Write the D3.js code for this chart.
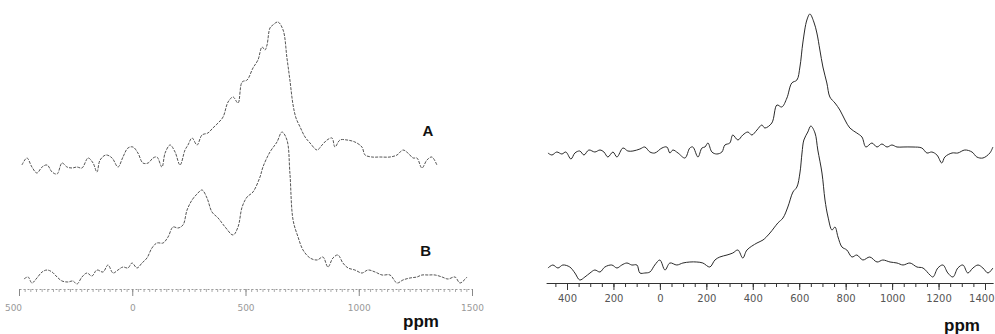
<!DOCTYPE html>
<html>
<head>
<meta charset="utf-8">
<script src="https://cdn.jsdelivr.net/npm/d3@7"></script>
<style>
  body { margin: 0; background: #fff; }
  svg { display: block; }
</style>
</head>
<body>
<div id="chart"></div>
<script>
// Two stacked NMR spectra panels, ppm on x, intensity in arbitrary units

// left panel, spectrum A  [ppm, intensity]
let leftA = [[-487,0],[-465,7],[-443,-2],[-421,-8],[-398,-2],[-376,0],[-354,-7],[-332,-9],[-310,2],[-288,-2],
  [-266,-3],[-244,-2],[-222,-3],[-195,7],[-173,2],[-156,-7],[-142,5],[-116,10],[-89,7],[-63,-2],
  [-41,8],[-19,17],[3,18],[25,12],[47,2],[70,2],[92,7],[109,8],[131,-2],[145,12],
  [167,20],[189,13],[211,0],[233,15],[246,20],[264,27],[286,20],[308,30],[334,32],[356,37],
  [379,42],[401,48],[423,63],[445,68],[467,62],[485,83],[507,85],[533,97],[555,105],[573,118],
  [586,115],[595,120],[608,137],[621,140],[643,143],[666,135],[683,107],[696,85],[710,60],[723,47],
  [741,38],[763,28],[785,22],[816,15],[838,20],[860,25],[882,27],[895,18],[917,25],[948,25],
  [983,23],[1014,18],[1028,10],[1058,8],[1094,8],[1138,8],[1169,10],[1195,15],[1217,12],[1240,7],
  [1257,7],[1279,-3],[1301,5],[1323,8],[1345,0]];

// left panel, spectrum B
let leftB = [[-478,-1],[-460,1],[-443,-5],[-421,0],[-398,6],[-376,8],[-354,6],[-332,1],[-310,-3],[-284,-4],
  [-262,-3],[-244,-6],[-222,1],[-200,5],[-178,2],[-156,8],[-129,6],[-107,13],[-85,5],[-63,8],
  [-41,11],[-19,10],[-1,15],[21,10],[43,15],[65,20],[87,30],[109,35],[136,35],[158,41],
  [180,51],[202,50],[224,53],[242,68],[264,78],[286,84],[308,88],[330,80],[352,66],[379,60],
  [410,51],[445,43],[467,51],[485,71],[507,81],[533,86],[564,101],[577,111],[608,126],[639,136],
  [661,146],[683,138],[696,105],[710,58],[732,41],[754,28],[785,20],[816,18],[842,21],[864,11],
  [886,20],[908,23],[930,15],[953,10],[983,8],[1014,5],[1041,8],[1072,6],[1103,3],[1138,3],
  [1169,-5],[1195,-2],[1226,0],[1257,1],[1279,3],[1306,3],[1337,3],[1368,1],[1394,-1],[1425,1],
  [1447,-5],[1478,1]];

// right panel, upper spectrum
let rightA = [[-482,-1],[-465,-3],[-444,0],[-422,-2],[-405,0],[-383,-7],[-366,-1],[-345,1],[-327,-3],[-306,2],
  [-280,0],[-258,2],[-241,0],[-224,-5],[-202,0],[-185,-5],[-159,4],[-138,1],[-116,1],[-86,3],
  [-65,5],[-43,0],[-22,-1],[9,4],[30,5],[43,-1],[56,2],[78,-1],[108,-6],[129,4],
  [142,5],[164,-5],[181,4],[194,5],[207,9],[224,0],[245,-2],[267,0],[280,7],[301,9],
  [314,17],[336,12],[357,17],[379,20],[396,17],[418,22],[439,27],[452,24],[482,29],[504,47],
  [525,45],[547,54],[568,69],[590,72],[603,85],[616,110],[633,132],[646,138],[663,130],[676,119],
  [689,102],[702,85],[719,69],[732,55],[754,49],[775,42],[797,32],[818,24],[848,19],[870,15],
  [887,5],[913,9],[935,5],[956,8],[978,5],[999,7],[1021,5],[1047,5],[1090,5],[1128,4],
  [1150,-1],[1171,0],[1193,-3],[1214,-11],[1227,-5],[1258,-1],[1283,-1],[1313,2],[1344,0],[1365,-5],
  [1391,-6],[1421,-1],[1434,5]];

// right panel, lower spectrum
let rightB = [[-482,-1],[-461,2],[-439,-1],[-418,2],[-388,0],[-366,-6],[-345,-13],[-323,-10],[-301,-6],[-280,-3],
  [-258,-5],[-237,0],[-207,2],[-185,-1],[-164,2],[-142,4],[-121,2],[-99,2],[-86,-6],[-65,-6],
  [-43,-5],[-22,2],[0,7],[22,-3],[43,4],[73,2],[99,4],[129,5],[159,5],[185,4],
  [215,0],[237,7],[258,10],[289,12],[314,14],[336,17],[357,9],[375,17],[418,24],[444,27],
  [474,34],[508,44],[530,49],[551,60],[573,75],[590,80],[603,94],[612,114],[620,127],[637,135],
  [650,141],[668,134],[680,117],[698,94],[711,67],[724,50],[741,37],[754,40],[767,30],[784,20],
  [805,17],[827,10],[848,12],[874,7],[904,10],[935,5],[960,7],[991,5],[1021,4],[1047,2],
  [1077,4],[1107,0],[1133,-1],[1163,-8],[1176,-10],[1197,-1],[1219,2],[1240,-6],[1262,-10],[1283,-1],
  [1305,2],[1326,-6],[1348,-1],[1370,2],[1391,-1],[1413,-6],[1434,-1]];

// vertical offsets of the upper traces (intensity units)
let leftOffsetA = 113;
let rightOffsetA = 115;

let leftTicks = [-500, 0, 500, 1000, 1500];
let rightTicks = [-400, -200, 0, 200, 400, 600, 800, 1000, 1200, 1400];
let traceLabels = ["A", "B"];
let unitLabel = "ppm";

let width = 995, height = 334;

let svg = d3.select("#chart")
    .append("svg")
    .attr("width", width)
    .attr("height", height);

// scales
let xLeft = d3.scaleLinear().domain([-500, 1500]).range([19, 472]);
let yLeft = d3.scaleLinear().domain([0, 150]).range([278, 128]);
let xRight = d3.scaleLinear().domain([-400, 1400]).range([567, 985]);
let yRight = d3.scaleLinear().domain([0, 150]).range([267, 117]);

function drawTrace(data, x, y, offset, stroke, dash) {
    let line = d3.line()
        .x(function(d){ return x(d[0]); })
        .y(function(d){ return y(d[1] + offset); })
        .curve(d3.curveCatmullRom.alpha(0.5));
    svg.append("path")
        .datum(data)
        .attr("d", line)
        .attr("fill", "none")
        .attr("stroke", stroke)
        .attr("stroke-width", 1)
        .attr("stroke-dasharray", dash);
}

drawTrace(leftA, xLeft, yLeft, leftOffsetA, "#555", "3,1.2");
drawTrace(leftB, xLeft, yLeft, 0, "#555", "3,1.2");
drawTrace(rightA, xRight, yRight, rightOffsetA, "#2a2a2a", null);
drawTrace(rightB, xRight, yRight, 0, "#2a2a2a", null);

// left axis: faint dotted line with small ticks
let leftAxisY = 289;
let leftMinor = svg.append("g")
    .attr("transform", "translate(0," + leftAxisY + ")")
    .call(d3.axisBottom(xLeft).tickValues(d3.range(-500, 1501, 25)).tickSize(3).tickSizeOuter(0).tickFormat(""));
leftMinor.select(".domain").attr("stroke", "#999").attr("stroke-dasharray", "2,2");
leftMinor.selectAll(".tick line").attr("stroke", "#aaa");

let leftMajor = svg.append("g")
    .attr("transform", "translate(0," + leftAxisY + ")")
    .call(d3.axisBottom(xLeft).tickValues(leftTicks).tickSize(7).tickPadding(9)
        .tickFormat(function(d){ return Math.abs(d); }));
leftMajor.select(".domain").remove();
leftMajor.selectAll(".tick line").attr("stroke", "#888");
leftMajor.selectAll("text")
    .attr("fill", "#999")
    .style("font-family", "DejaVu Sans, sans-serif")
    .style("font-size", "9px");
// first label sits a little left of its tick in the reference
leftMajor.selectAll("text").filter(function(d){ return d === -500; }).attr("dx", -6);

// right axis: solid line with minor and major ticks
let rightAxisY = 283;
let rightScaleAxis = xRight.copy().domain([-490, 1435]).range([xRight(-490), xRight(1435)]);
let rightMinor = svg.append("g")
    .attr("transform", "translate(0," + rightAxisY + ")")
    .call(d3.axisBottom(rightScaleAxis).tickValues(d3.range(-450, 1435, 50)).tickSize(4).tickSizeOuter(0).tickFormat(""));
rightMinor.select(".domain").attr("stroke", "#333");
rightMinor.selectAll(".tick line").attr("stroke", "#333");

let rightMajor = svg.append("g")
    .attr("transform", "translate(0," + rightAxisY + ")")
    .call(d3.axisBottom(rightScaleAxis).tickValues(rightTicks).tickSize(7).tickPadding(5)
        .tickFormat(function(d){ return Math.abs(d); }));
rightMajor.select(".domain").remove();
rightMajor.selectAll(".tick line").attr("stroke", "#333");
rightMajor.selectAll("text")
    .attr("fill", "#555")
    .style("font-family", "DejaVu Sans, sans-serif")
    .style("font-size", "10px");
// keep the last label inside the frame
rightMajor.selectAll("text").filter(function(d){ return d === 1400; })
    .attr("text-anchor", "end").attr("dx", 9);

// trace labels
svg.selectAll(".tracelabel")
    .data(traceLabels)
    .enter()
    .append("text")
    .attr("class", "tracelabel")
    .attr("x", function(d, i){ return xLeft(i === 0 ? 1305 : 1296); })
    .attr("y", function(d, i){ return yLeft(i === 0 ? 148 : 28); })
    .attr("text-anchor", "middle")
    .attr("dominant-baseline", "central")
    .style("font-family", "Liberation Sans, Arial, sans-serif")
    .style("font-weight", "bold")
    .style("font-size", "15px")
    .attr("fill", "#111")
    .text(function(d){ return d; });

// ppm labels
svg.append("text")
    .attr("x", 421).attr("y", 321)
    .attr("text-anchor", "middle")
    .attr("dominant-baseline", "central")
    .style("font-family", "Liberation Sans, Arial, sans-serif")
    .style("font-weight", "bold")
    .style("font-size", "17px")
    .attr("fill", "#111")
    .text(unitLabel);

svg.append("text")
    .attr("x", 962).attr("y", 325)
    .attr("text-anchor", "middle")
    .attr("dominant-baseline", "central")
    .style("font-family", "Liberation Sans, Arial, sans-serif")
    .style("font-weight", "bold")
    .style("font-size", "17px")
    .attr("fill", "#111")
    .text(unitLabel);
</script>
</body>
</html>
